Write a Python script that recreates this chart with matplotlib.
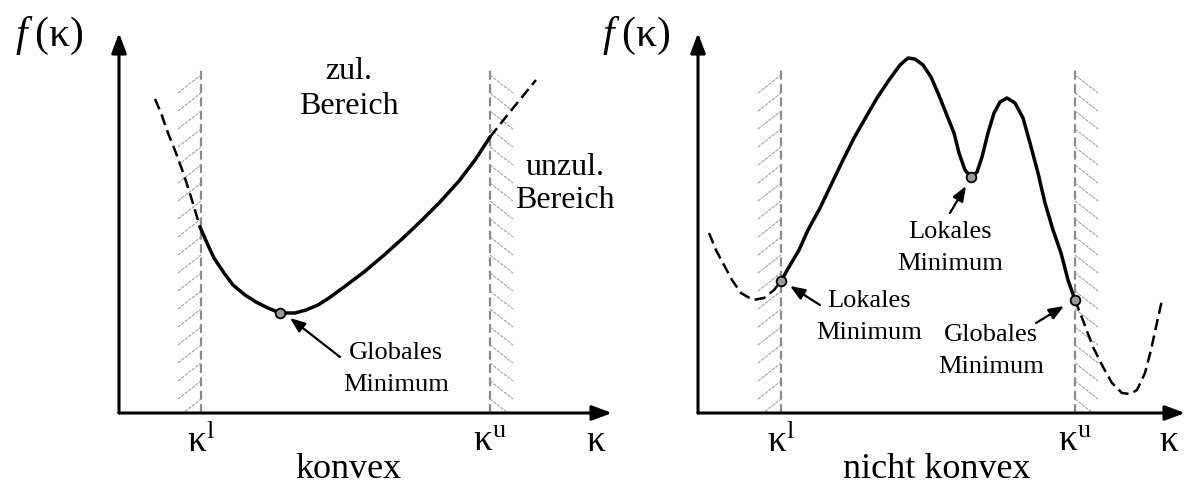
import numpy as np
import matplotlib
matplotlib.use("Agg")
import matplotlib.pyplot as plt
from matplotlib.collections import LineCollection

plt.rcParams["font.family"] = ["Liberation Serif", "DejaVu Serif"]
plt.rcParams["mathtext.fontset"] = "custom"
plt.rcParams["mathtext.rm"] = "Liberation Serif"
plt.rcParams["mathtext.it"] = "Liberation Serif:italic"

# ---- left panel (konvex) ----
conv_kl, conv_ku = 82, 371
conv_dash_l_x = [36, 42, 49, 57, 65, 72, 81]
conv_dash_l_y = [314, 300, 280, 260, 238, 216, 186]
conv_solid_x = [81, 88, 95, 105, 114, 126, 137, 149, 161, 176, 187, 199, 210,
                225, 245, 264, 283, 302, 321, 340, 356, 371]
conv_solid_y = [186, 170, 155, 140, 128, 118, 111, 105, 100, 100, 103, 108, 115,
                126, 141, 157, 174, 192, 211, 232, 253, 276]
conv_dash_r_x = [371, 390, 417]
conv_dash_r_y = [276, 300, 333]
conv_min = (161, 100)

# ---- right panel (nicht konvex) ----
nc_kl, nc_ku = 83, 377
nc_dash_l_x = [11, 18, 26, 34, 43, 55, 66, 76, 83]
nc_dash_l_y = [180, 163, 148, 133, 120, 113, 115, 123, 132]
nc_solid_x = [83, 91, 101, 110, 122, 133, 145, 156, 168, 179, 191, 202, 210,
              217, 225, 233, 240, 248, 256, 261, 267, 273, 279, 284, 290, 296,
              302, 309, 317, 325, 332, 340, 347, 355, 363, 370, 377]
nc_solid_y = [132, 146, 163, 183, 205, 228, 253, 275, 296, 315, 333, 348, 355,
              354, 348, 336, 320, 300, 280, 260, 243, 236, 241, 256, 280, 300,
              311, 315, 310, 295, 270, 240, 210, 183, 160, 133, 113]
nc_dash_r_x = [377, 386, 395, 405, 414, 424, 432, 439, 447, 453, 458, 464]
nc_dash_r_y = [113, 90, 66, 46, 30, 20, 19, 23, 40, 63, 86, 113]
nc_minima_x = [83, 273, 377]
nc_minima_y = [132, 236, 113]

W, H = 1188, 491
fig = plt.figure(figsize=(W / 100, H / 100), dpi=100)


def panel(ox, tip_x, kl, ku, fx):
    # axes whose data units are pixels measured from the axis origin
    ax = fig.add_axes([ox / W, (H - 413) / H, (tip_x - ox) / W, (413 - 33) / H])
    ax.set_xlim(0, tip_x - ox)
    ax.set_ylim(0, 380)
    ax.axis("off")
    arrow = dict(arrowstyle="-|>,head_length=1.2,head_width=0.45", color="black",
                 lw=2.2, shrinkA=0, shrinkB=0)
    ax.annotate("", xy=(tip_x - ox, 0), xytext=(0, 0), arrowprops=arrow,
                annotation_clip=False)
    ax.annotate("", xy=(0, 380), xytext=(0, 0), arrowprops=arrow,
                annotation_clip=False)
    # bound lines with hatching
    for k, side in [(kl, -1), (ku, 1)]:
        ax.plot([k, k], [0, 343], color="#8a8a8a", lw=1.6, ls=(0, (4, 2)), zorder=1)
        tops = np.arange(338, 10, -18)
        if side < 0:
            segs = [[(k - 23, t - 18), (k, t)] for t in tops]
        else:
            segs = [[(k, t), (k + 23, t - 18)] for t in tops]
        ax.add_collection(LineCollection(segs, colors="#a0a0a0", linewidths=0.8,
                                         linestyles=[(0, (3, 1))], zorder=1))
    ax.text(kl, -29, r"$\mathrm{κ}^{\mathrm{l}}$", fontsize=27, ha="center", va="center")
    ax.text(ku, -29, r"$\mathrm{κ}^{\mathrm{u}}$", fontsize=27, ha="center", va="center")
    ax.text(tip_x - ox - 16, -29, "κ", fontsize=27, ha="center", va="center")
    ax.text(fx, 377, r"$f\;(\mathrm{κ})$", fontsize=30, ha="center", va="center")
    return ax


def arrow_to(ax, head, tail):
    ax.annotate("", xy=head, xytext=tail,
                arrowprops=dict(arrowstyle="-|>,head_length=0.9,head_width=0.35",
                                color="black", lw=1.6, shrinkA=0, shrinkB=0))


curve = dict(color="black", lw=2.5, solid_capstyle="round", solid_joinstyle="round")
dashed = dict(color="black", lw=1.8, ls=(0, (4.5, 2.2)))
marker = dict(marker="o", ms=7, mfc="#999999", mec="black", mew=1.3, ls="none", zorder=5)

# left panel
ax1 = panel(119, 612, conv_kl, conv_ku, -70)
ax1.plot(conv_dash_l_x, conv_dash_l_y, **dashed)
ax1.plot(conv_solid_x, conv_solid_y, **curve)
ax1.plot(conv_dash_r_x, conv_dash_r_y, **dashed)
ax1.plot([conv_min[0]], [conv_min[1]], **marker)
arrow_to(ax1, (171, 95), (221, 56))
ax1.text(277, 44, "Globales\nMinimum", fontsize=19, ha="center", va="center",
         linespacing=1.55)
ax1.text(230, 324, "zul.\nBereich", fontsize=23, ha="center", va="center",
         linespacing=1.3)
ax1.text(446, 229, "unzul.\nBereich", fontsize=23, ha="center", va="center",
         linespacing=1.15)
ax1.text(229, -57, "konvex", fontsize=26, ha="center", va="center")

# right panel
ax2 = panel(698, 1185, nc_kl, nc_ku, -62)
ax2.plot(nc_dash_l_x, nc_dash_l_y, **dashed)
ax2.plot(nc_solid_x, nc_solid_y, **curve)
ax2.plot(nc_dash_r_x, nc_dash_r_y, **dashed)
ax2.plot(nc_minima_x, nc_minima_y, **marker)
arrow_to(ax2, (268, 227), (252, 200))
ax2.text(252, 165, "Lokales\nMinimum", fontsize=19, ha="center", va="center",
         linespacing=1.55)
arrow_to(ax2, (92, 127), (122, 108))
ax2.text(171, 96, "Lokales\nMinimum", fontsize=19, ha="center", va="center",
         linespacing=1.55)
arrow_to(ax2, (366, 107), (338, 90))
ax2.text(293, 62, "Globales\nMinimum", fontsize=19, ha="center", va="center",
         linespacing=1.55)
ax2.text(239, -57, "nicht konvex", fontsize=26, ha="center", va="center")

fig.savefig("out.png", dpi=100)
